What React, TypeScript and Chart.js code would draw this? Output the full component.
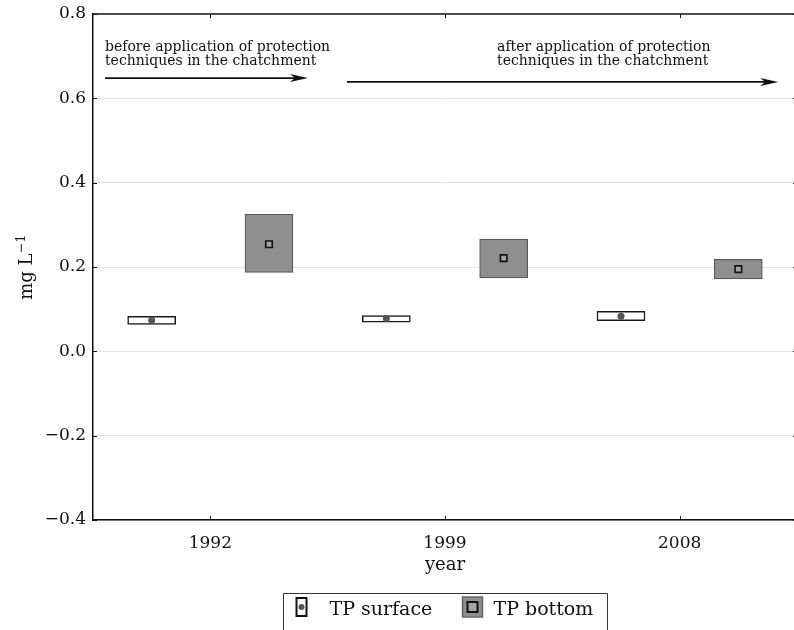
import React, { useEffect, useRef } from 'react';
import { Chart, registerables } from 'chart.js';

Chart.register(...registerables);

const categories = ['1992', '1999', '2008'];
const surfaceLow = [0.064, 0.069, 0.073];
const surfaceHigh = [0.083, 0.085, 0.095];
const surfaceMedian = [0.074, 0.078, 0.083];
const bottomLow = [0.187, 0.174, 0.172];
const bottomHigh = [0.325, 0.266, 0.218];
const bottomMedian = [0.254, 0.221, 0.195];
const yTickLabels = ['\u22120.4', '\u22120.2', '0.0', '0.2', '0.4', '0.6', '0.8'];
const seriesNames = ['TP surface', 'TP bottom'];
const beforeText = ['before application of protection', 'techniques in the chatchment'];
const afterText = ['after application of protection', 'techniques in the chatchment'];

const FONT = "'DejaVu Serif', serif";

// annotation anchors in data units (x on the hidden linear axis, y in mg/L)
const beforeNote = { textX: -0.449, arrowFrom: -0.449, arrowTo: 0.416, arrowY: 0.648 };
const afterNote = { textX: 1.222, arrowFrom: 0.582, arrowTo: 2.42, arrowY: 0.639 };
const noteLineY = [0.713, 0.679];

function drawArrow(ctx: CanvasRenderingContext2D, x1: number, x2: number, y: number) {
  ctx.strokeStyle = '#111';
  ctx.fillStyle = '#111';
  ctx.lineWidth = 1.6;
  ctx.beginPath();
  ctx.moveTo(x1, y);
  ctx.lineTo(x2 - 10, y);
  ctx.stroke();
  ctx.beginPath();
  ctx.moveTo(x2, y);
  ctx.lineTo(x2 - 18, y - 4);
  ctx.lineTo(x2 - 13, y);
  ctx.lineTo(x2 - 18, y + 4);
  ctx.closePath();
  ctx.fill();
}

const decorPlugin = {
  id: 'decor',
  afterDraw(chart: any) {
    const { ctx, chartArea: ca, scales } = chart;
    const ys = scales.y;
    const xs = scales.x;
    const x2 = scales.x2;
    ctx.save();
    // top frame line
    ctx.strokeStyle = '#111';
    ctx.lineWidth = 1.5;
    ctx.beginPath();
    ctx.moveTo(ca.left, ca.top);
    ctx.lineTo(ca.right, ca.top);
    ctx.stroke();
    // inward ticks
    ctx.lineWidth = 1;
    ys.ticks.forEach((_t: any, i: number) => {
      const py = Math.round(ys.getPixelForTick(i)) + 0.5;
      ctx.beginPath();
      ctx.moveTo(ca.left, py);
      ctx.lineTo(ca.left + 4, py);
      ctx.moveTo(ca.right - 4, py);
      ctx.lineTo(ca.right, py);
      ctx.stroke();
    });
    categories.forEach((_c, i) => {
      const px = Math.round(xs.getPixelForValue(i)) + 0.5;
      ctx.beginPath();
      ctx.moveTo(px, ca.bottom);
      ctx.lineTo(px, ca.bottom - 4);
      ctx.moveTo(px, ca.top);
      ctx.lineTo(px, ca.top + 4);
      ctx.stroke();
    });

    // annotations
    ctx.fillStyle = '#111';
    ctx.font = `14px ${FONT}`;
    ctx.textAlign = 'left';
    ctx.textBaseline = 'alphabetic';
    beforeText.forEach((t, i) => ctx.fillText(t, x2.getPixelForValue(beforeNote.textX), ys.getPixelForValue(noteLineY[i])));
    afterText.forEach((t, i) => ctx.fillText(t, x2.getPixelForValue(afterNote.textX), ys.getPixelForValue(noteLineY[i])));
    drawArrow(ctx, x2.getPixelForValue(beforeNote.arrowFrom), x2.getPixelForValue(beforeNote.arrowTo), ys.getPixelForValue(beforeNote.arrowY));
    drawArrow(ctx, x2.getPixelForValue(afterNote.arrowFrom), x2.getPixelForValue(afterNote.arrowTo), ys.getPixelForValue(afterNote.arrowY));

    // y axis title: mg L^-1
    ctx.fillStyle = '#111';
    const mainFont = `18px ${FONT}`;
    const supFont = `12.5px ${FONT}`;
    ctx.font = mainFont;
    const wMain = ctx.measureText('mg L').width;
    ctx.font = supFont;
    const wSup = ctx.measureText('\u22121').width;
    const total = wMain + wSup;
    const cy = (ca.top + ca.bottom) / 2 + 0.5;
    ctx.save();
    ctx.translate(32, cy);
    ctx.rotate(-Math.PI / 2);
    ctx.font = mainFont;
    ctx.fillText('mg L', -total / 2, 0);
    ctx.font = supFont;
    ctx.fillText('\u22121', -total / 2 + wMain + 0.5, -7);
    ctx.restore();

    // legend
    const cx = (ca.left + ca.right) / 2;
    const L = Math.round(cx - 162) + 0.5;
    const R = L + 324;
    const T = 593.5;
    ctx.strokeStyle = '#333';
    ctx.lineWidth = 1;
    ctx.beginPath();
    ctx.moveTo(L, 640);
    ctx.lineTo(L, T);
    ctx.lineTo(R, T);
    ctx.lineTo(R, 640);
    ctx.stroke();
    // surface icon
    ctx.fillStyle = '#fff';
    ctx.fillRect(L + 13, 598, 10, 18);
    ctx.strokeStyle = '#111';
    ctx.lineWidth = 2;
    ctx.strokeRect(L + 13, 598, 10, 18);
    ctx.fillStyle = '#555';
    ctx.beginPath();
    ctx.arc(L + 18, 607, 3, 0, Math.PI * 2);
    ctx.fill();
    // bottom icon
    ctx.fillStyle = '#8f8f8f';
    ctx.fillRect(L + 179, 597, 20, 20);
    ctx.strokeStyle = '#666';
    ctx.lineWidth = 1.5;
    ctx.strokeRect(L + 179, 597, 20, 20);
    ctx.fillStyle = '#a5a5a5';
    ctx.fillRect(L + 184, 602, 10, 10);
    ctx.strokeStyle = '#111';
    ctx.lineWidth = 2;
    ctx.strokeRect(L + 184, 602, 10, 10);
    // texts
    ctx.fillStyle = '#111';
    ctx.font = `19px ${FONT}`;
    ctx.textBaseline = 'alphabetic';
    ctx.fillText(seriesNames[0], L + 46, 615);
    ctx.fillText(seriesNames[1], L + 210, 615);
    ctx.restore();
  },
};

const noSidePadding = (s: any) => {
  s.paddingLeft = 0;
  s.paddingRight = 0;
};

export default function App() {
  const ref = useRef<HTMLCanvasElement>(null);
  useEffect(() => {
    if (!ref.current) return;
    const chart = new Chart(ref.current, {
      type: 'bar',
      data: {
        labels: categories,
        datasets: [
          {
            type: 'scatter',
            label: seriesNames[0] + ' median',
            data: surfaceMedian.map((v, i) => ({ x: i - 0.25, y: v })),
            xAxisID: 'x2',
            pointStyle: 'circle',
            pointRadius: 3.5,
            backgroundColor: '#555',
            borderColor: '#555',
            borderWidth: 0,
            order: 0,
          } as any,
          {
            type: 'scatter',
            label: seriesNames[1] + ' median',
            data: bottomMedian.map((v, i) => ({ x: i + 0.25, y: v })),
            xAxisID: 'x2',
            pointStyle: 'rect',
            pointRadius: 4.6,
            backgroundColor: '#a5a5a5',
            borderColor: '#111',
            borderWidth: 1.6,
            order: 0,
          } as any,
          {
            type: 'bar',
            label: seriesNames[0],
            data: surfaceLow.map((lo, i) => ({ x: i - 0.25, y: [lo, surfaceHigh[i]] })),
            xAxisID: 'x2',
            grouped: false,
            barThickness: 48,
            backgroundColor: '#ffffff',
            borderColor: '#1a1a1a',
            borderWidth: 1.5,
            borderSkipped: false,
            order: 1,
          } as any,
          {
            type: 'bar',
            label: seriesNames[1],
            data: bottomLow.map((lo, i) => ({ x: i + 0.25, y: [lo, bottomHigh[i]] })),
            xAxisID: 'x2',
            grouped: false,
            barThickness: 48,
            backgroundColor: '#8f8f8f',
            borderColor: '#5a5a5a',
            borderWidth: 1.2,
            borderSkipped: false,
            order: 1,
          } as any,
        ],
      },
      options: {
        responsive: false,
        animation: false,
        layout: { autoPadding: false, padding: { top: 14, left: 0, right: 0, bottom: 0 } },
        plugins: { legend: { display: false }, tooltip: { enabled: false } },
        scales: {
          x: {
            type: 'category',
            labels: categories,
            offset: true,
            grid: { display: false, drawTicks: true, tickLength: 13, tickColor: 'rgba(0,0,0,0)', offset: true },
            border: { display: true, color: '#111', width: 1.5 },
            ticks: { font: { family: FONT, size: 17 }, color: '#111', padding: 0 },
            title: {
              display: true,
              text: 'year',
              font: { family: FONT, size: 18 },
              color: '#111',
              padding: { top: 0, bottom: 54 },
            },
            afterFit: (s: any) => {
              s.height = 110;
              noSidePadding(s);
            },
          },
          x2: {
            type: 'linear',
            display: false,
            offset: false,
            min: -0.5,
            max: 2.5,
            grid: { offset: false },
            afterFit: noSidePadding,
          },
          y: {
            type: 'linear',
            min: -0.4,
            max: 0.8,
            ticks: {
              stepSize: 0.2,
              font: { family: FONT, size: 17 },
              color: '#111',
              padding: 0,
              callback: (_v: any, i: number) => yTickLabels[i],
            },
            grid: {
              drawTicks: true,
              tickLength: 7,
              tickColor: 'rgba(0,0,0,0)',
              color: (c: any) => (c.index === yTickLabels.length - 1 ? 'rgba(0,0,0,0)' : '#e3e3e3'),
              lineWidth: 1,
            },
            border: { display: true, color: '#111', width: 1.5 },
            afterFit: (s: any) => {
              s.width = 93;
            },
          },
        },
      } as any,
      plugins: [decorPlugin],
    });
    return () => chart.destroy();
  }, []);
  return (
    <div style={{ position: 'fixed', left: 0, top: 0, width: 794, height: 630, overflow: 'hidden', background: '#fff' }}>
      <canvas ref={ref} width={797} height={630} style={{ display: 'block', width: 797, height: 630 }} />
    </div>
  );
}
